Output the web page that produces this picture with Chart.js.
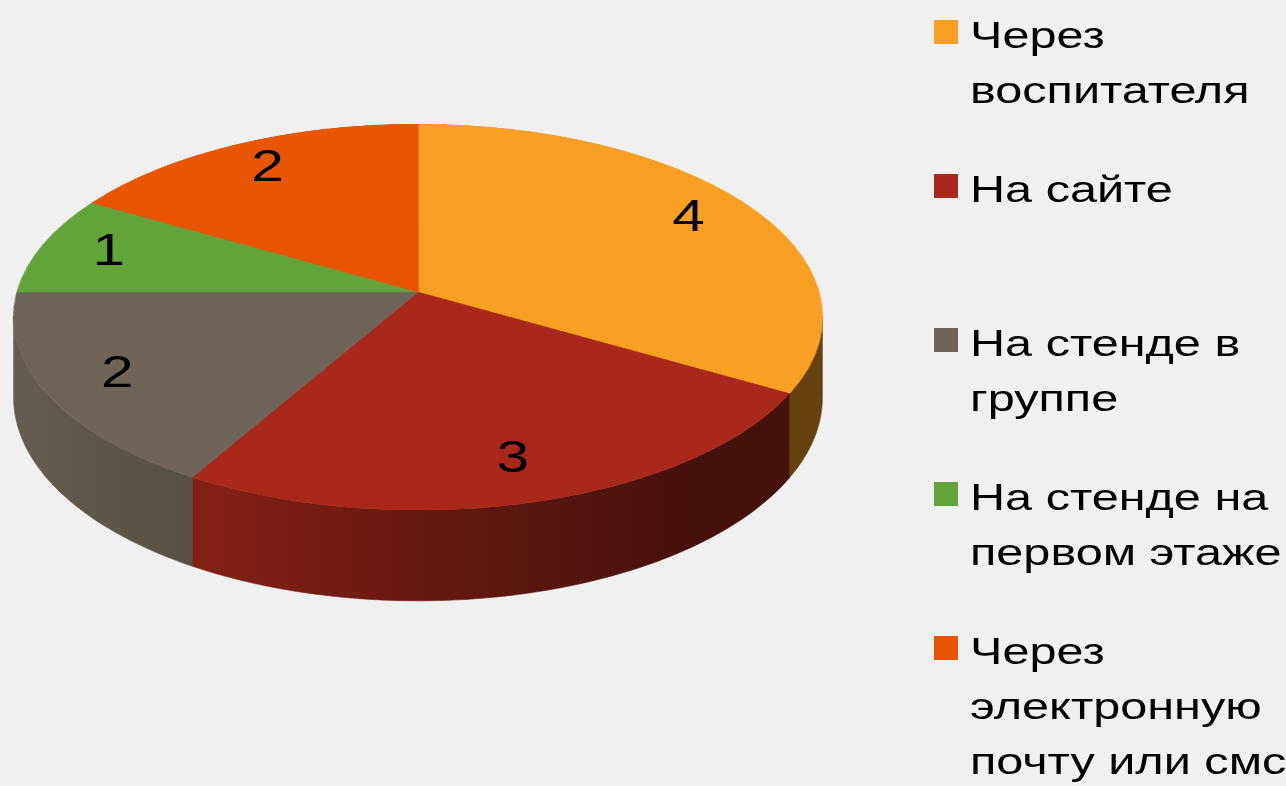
<!DOCTYPE html>
<html>
<head>
<meta charset="utf-8">
<script src="https://cdn.jsdelivr.net/npm/chart.js@4.4.1/dist/chart.umd.min.js"></script>
<style>
  html, body { margin: 0; padding: 0; background: #f0f0f0; }
  #wrap { position: relative; width: 1286px; height: 786px; overflow: hidden; }
  #chart { position: absolute; left: 0; top: 0; }
  .item { position: absolute; left: 934px; }
  .box { position: absolute; left: 0; width: 24px; height: 24px; top: 12px; }
  .txt {
    position: absolute; left: 36px; top: 0; width: 250px;
    font: 36px "Liberation Sans", Arial, sans-serif; line-height: 55px; color: #000;
    transform: scaleX(1.35); transform-origin: 0 0;
  }
</style>
</head>
<body>
<div id="wrap">
  <canvas id="chart" width="1286" height="786"></canvas>
  <div id="legend"></div>
</div>
<script>
// categories and values
var categories = ["Через воспитателя", "На сайте", "На стенде в группе",
  "На стенде на первом этаже", "Через электронную почту или смс"];
var answers = [4, 3, 2, 1, 2];
var sliceColors = ["#F9A024", "#A8291C", "#6E6558", "#62A33A", "#E85505"];

// the slide was stretched sideways, so text is widened too
var STRETCH = 1.3;

// perspective of the tilted pie (top face centre, half axes, depth)
var CX = 418, CY = 292, AX = 401, BY = 189.8, Q = 0.1296, DEPTH = 79;

function project(a, r) {
    var u = r * Math.cos(a), v = r * Math.sin(a), w = 1 - Q * v;
    return [CX + AX * u / w, CY + BY * v / w, w];
}

function shade(hex, f) {
    var n = parseInt(hex.slice(1), 16);
    var r = Math.round(((n >> 16) & 255) * f);
    var g = Math.round(((n >> 8) & 255) * f);
    var b = Math.round((n & 255) * f);
    return "rgb(" + r + "," + g + "," + b + ")";
}

var pie3d = {
    id: "pie3d",
    afterDatasetsDraw: function(chart) {
        var meta = chart.getDatasetMeta(0);
        var arcs = meta.data;
        var ox = arcs[0].x, oy = arcs[0].y, R = arcs[0].outerRadius;
        var ctx = chart.ctx;

        // keep the flat pie that chart.js drew, then clear
        var off = document.createElement("canvas");
        off.width = chart.canvas.width;
        off.height = chart.canvas.height;
        off.getContext("2d").drawImage(chart.canvas, 0, 0);

        ctx.save();
        ctx.setTransform(1, 0, 0, 1, 0, 0);
        ctx.clearRect(0, 0, off.width, off.height);

        // side walls of the front half
        var lo = Math.asin(Q), hi = Math.PI - Math.asin(Q);
        var xl = CX - AX - 5, xr = CX + AX + 5;
        for (var i = 0; i < arcs.length; i++) {
            var s = Math.max(arcs[i].startAngle, lo);
            var e = Math.min(arcs[i].endAngle, hi);
            if (e <= s) continue;
            var N = 80, k, p;
            ctx.beginPath();
            for (k = 0; k <= N; k++) {
                p = project(s + (e - s) * k / N, 1);
                if (k == 0) ctx.moveTo(p[0], p[1]); else ctx.lineTo(p[0], p[1]);
            }
            for (k = N; k >= 0; k--) {
                p = project(s + (e - s) * k / N, 1);
                ctx.lineTo(p[0], p[1] + DEPTH / p[2]);
            }
            ctx.closePath();
            var col = sliceColors[i];
            var grad = ctx.createLinearGradient(xl, 0, xr, 0);
            grad.addColorStop(0, shade(col, 0.92));
            grad.addColorStop(0.84, shade(col, 0.41));
            grad.addColorStop(1, shade(col, 0.41));
            ctx.fillStyle = grad;
            ctx.fill();
            ctx.strokeStyle = grad;
            ctx.lineWidth = 0.6;
            ctx.stroke();
        }

        // top face: each screen row is one row of the flat pie, scaled sideways
        var yTop = Math.floor(CY - BY / (1 + Q)), yBot = Math.ceil(CY + BY / (1 - Q));
        ctx.imageSmoothingEnabled = true;
        for (var y = yTop; y <= yBot; y++) {
            var d = (y + 0.5 - CY) / BY;
            var v = d / (1 + Q * d);
            if (v < -1 || v > 1) continue;
            var w = 1 - Q * v;
            var sy = oy + R * v - 0.5;
            ctx.drawImage(off, ox - R - 2, sy, 2 * R + 4, 1,
                CX - AX * (R + 2) / (R * w), y, 2 * AX * (R + 2) / (R * w), 1);
        }

        // value labels
        ctx.fillStyle = "#000";
        ctx.font = '45px "Liberation Sans", Arial, sans-serif';
        ctx.textAlign = "center";
        ctx.textBaseline = "middle";
        for (var j = 0; j < arcs.length; j++) {
            var mid = (arcs[j].startAngle + arcs[j].endAngle) / 2;
            var q = project(mid, 0.82);
            ctx.save();
            ctx.translate(q[0], q[1]);
            ctx.scale(STRETCH, 1);
            ctx.fillText(String(answers[j]), 0, 0);
            ctx.restore();
        }
        ctx.restore();
    }
};

var ctx = document.getElementById("chart").getContext("2d");
var myPie = new Chart(ctx, {
    type: "pie",
    data: {
        labels: categories,
        datasets: [{
            data: answers,
            backgroundColor: sliceColors,
            borderColor: sliceColors,
            borderWidth: 1
        }]
    },
    options: {
        responsive: false,
        animation: false,
        devicePixelRatio: 1,
        layout: { padding: 10 },
        plugins: {
            legend: { display: false },
            tooltip: { enabled: false }
        }
    },
    plugins: [pie3d]
});

// legend on the right
var legend = document.getElementById("legend");
for (var i = 0; i < categories.length; i++) {
    var item = document.createElement("div");
    item.className = "item";
    item.style.top = (8 + i * 154) + "px";
    var box = document.createElement("div");
    box.className = "box";
    box.style.background = sliceColors[i];
    var txt = document.createElement("div");
    txt.className = "txt";
    txt.textContent = categories[i];
    item.appendChild(box);
    item.appendChild(txt);
    legend.appendChild(item);
}
</script>
</body>
</html>
